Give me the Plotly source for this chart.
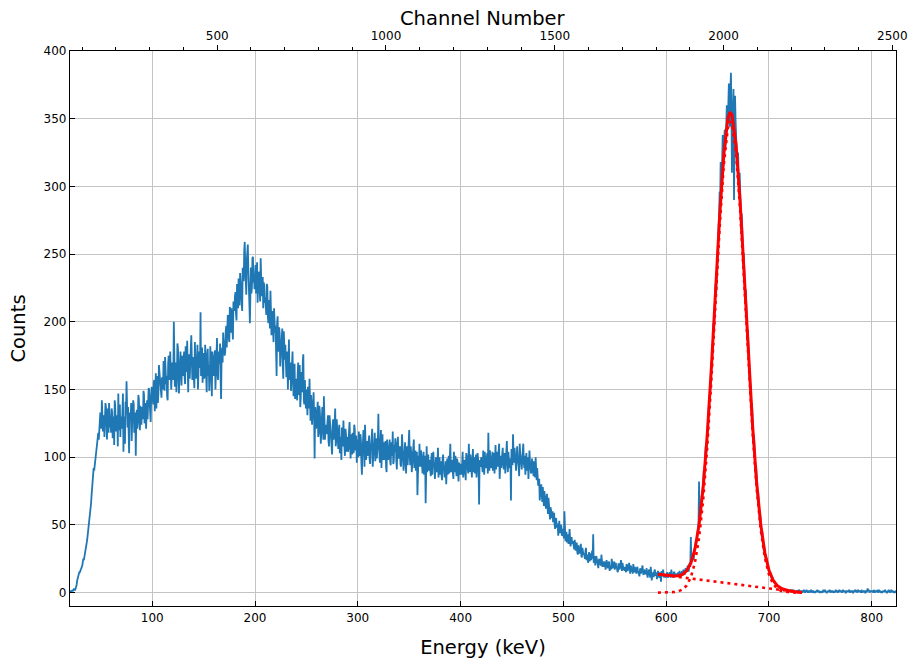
import numpy as np
import plotly.graph_objects as go

# Spectrum: counts at whole-keV energies starting at 20 keV ...
E_START = 20
COUNTS_INT = [
    1, 0, 2, 1, 3, 2, 4, 9, 12, 15,
    16, 19, 20, 25, 26, 31, 34, 41, 47, 56,
    60, 72, 79, 92, 94, 103, 106, 115, 113, 124,
    128, 142, 119, 131, 124, 137, 113, 129, 140, 122,
    118, 133, 126, 109, 138, 124, 131, 147, 120, 115,
    129, 136, 104, 125, 141, 156, 122, 118, 133, 127,
    112, 130, 139, 124, 101, 135, 128, 143, 120, 131,
    137, 128, 146, 133, 121, 142, 139, 150, 131, 145,
    148, 139, 157, 151, 136, 160, 147, 163, 152, 144,
    158, 171, 149, 165, 160, 142, 175, 157, 168, 162,
    166, 200, 152, 170, 158, 181, 147, 172, 163, 175,
    160, 178, 154, 169, 186, 148, 171, 165, 190, 157,
    168, 151, 176, 162, 183, 159, 172, 207, 164, 155,
    177, 161, 172, 148, 180, 168, 158, 175, 145, 171,
    163, 179, 170, 188, 157, 176, 184, 143, 181, 192,
    186, 178, 197, 190, 203, 185, 199, 210, 194, 215,
    208, 222, 201, 217, 232, 212, 226, 218, 240, 230,
    259, 228, 245, 257, 231, 199, 240, 226, 248, 235,
    236, 221, 244, 228, 233, 215, 238, 222, 210, 227,
    218, 205, 226, 199, 212, 223, 190, 208, 185, 201,
    197, 160, 204, 183, 191, 175, 186, 168, 193, 172,
    166, 178, 150, 187, 161, 149, 172, 156, 165, 143,
    158, 142, 170, 151, 137, 163, 148, 176, 139, 145,
    150, 131, 144, 158, 127, 139, 135, 148, 99, 133,
    126, 141, 118, 135, 110, 129, 122, 145, 113, 124,
    119, 131, 108, 125, 114, 102, 128, 117, 136, 112,
    120, 106, 124, 115, 98, 118, 127, 110, 121, 104,
    115, 107, 126, 99, 113, 118, 103, 121, 110, 96,
    109, 119, 101, 113, 87, 111, 104, 124, 98, 112,
    103, 116, 95, 108, 121, 100, 110, 97, 114, 106,
    132, 101, 109, 92, 117, 104, 98, 112, 89, 107,
    101, 113, 94, 106, 119, 97, 104, 110, 91, 115,
    99, 108, 93, 117, 102, 96, 111, 88, 105, 100,
    120, 94, 103, 97, 109, 92, 105, 99, 72, 101,
    110, 93, 101, 88, 104, 97, 66, 108, 95, 90,
    98, 86, 103, 92, 95, 84, 100, 89, 107, 91,
    87, 97, 83, 102, 90, 94, 80, 99, 92, 88,
    110, 89, 96, 84, 93, 101, 86, 97, 82, 94,
    95, 87, 104, 90, 98, 83, 101, 92, 110, 89,
    97, 85, 106, 93, 88, 102, 95, 99, 65, 94,
    100, 91, 105, 87, 98, 94, 103, 118, 90, 96,
    92, 104, 97, 88, 109, 99, 93, 106, 84, 101,
    98, 107, 91, 103, 95, 112, 89, 100, 94, 68,
    105, 117, 96, 101, 90, 108, 98, 86, 103, 95,
    99, 110, 92, 87, 103, 96, 84, 105, 93, 89,
    94, 86, 91, 100, 83, 88, 80, 68, 76, 72,
    78, 64, 70, 62, 73, 58, 66, 54, 61, 57,
    52, 59, 47, 55, 50, 42, 53, 46, 49, 44,
    43, 60, 38, 45, 40, 36, 47, 34, 41, 37,
    35, 39, 31, 37, 28, 33, 30, 36, 26, 31,
    29, 25, 33, 27, 22, 30, 26, 24, 31, 43,
    24, 20, 27, 22, 18, 25, 21, 28, 19, 23,
    21, 17, 24, 19, 22, 16, 20, 25, 18, 21,
    17, 22, 19, 15, 21, 18, 24, 16, 20, 18,
    19, 15, 20, 17, 22, 14, 18, 16, 21, 15,
    17, 14, 19, 15, 12, 18, 16, 20, 13, 15,
    14, 18, 11, 16, 13, 19, 9, 15, 12, 17,
    13, 10, 16, 12, 15, 8, 14, 17, 11, 13,
    12, 15, 11, 14, 13, 17, 12, 11, 15, 13,
    14, 12, 13, 16, 12, 15, 14, 17, 13, 18,
    17, 20, 16, 22, 41, 23, 28, 26, 34, 38,
    44, 48, 82, 58, 60, 74, 80, 84, 101, 103,
    121, 126, 145, 150, 171, 176, 199, 204, 228, 233,
    256, 271, 296, 318, 301, 338, 319, 342, 333, 360,
    348, 376, 344, 384, 310, 352, 290, 367, 335, 318,
    325, 296, 301, 268, 270, 242, 238, 214, 210, 186,
    180, 158, 152, 133, 127, 110, 105, 88, 84, 70,
    68, 55, 53, 41, 40, 31, 30, 24, 23, 18,
    17, 13, 14, 10, 9, 8, 7, 6, 5, 5,
    4, 3, 4, 3, 2, 3, 2, 2, 1, 2,
    1, 2, 1, 1, 2, 1, 0, 1, 1, 2,
    1, 0, 1, 1, 2, 0, 1, 1, 0, 1,
    1, 2, 0, 1, 1, 0, 1, 2, 1, 0,
    1, 1, 0, 2, 1, 1, 0, 1, 1, 2,
    0, 1, 1, 1, 0, 2, 1, 0, 1, 1,
    1, 0, 2, 1, 1, 0, 1, 1, 2, 0,
    1, 1, 0, 1, 2, 1, 0, 1, 1, 1,
    2, 0, 1, 1, 0, 1, 3, 1, 0, 1,
    1, 1, 2, 0, 1, 1, 0, 2, 1, 1,
    0, 1, 1, 2, 1, 0, 1, 1, 0, 2,
    1, 0, 1, 1, 1,
]

# ... and at the half-keV energies in between (20.5, 21.5, ...)
COUNTS_HALF = [
    1, 1, 2, 2, 2, 3, 6, 11, 13, 15,
    18, 19, 23, 24, 29, 33, 38, 44, 52, 58,
    66, 76, 86, 90, 99, 104, 112, 118, 121, 133,
    121, 134, 126, 115, 140, 127, 136, 118, 130, 125,
    136, 114, 130, 142, 119, 127, 108, 125, 139, 130,
    121, 147, 130, 110, 132, 126, 137, 103, 128, 140,
    125, 142, 118, 133, 129, 121, 146, 127, 138, 124,
    130, 149, 125, 140, 136, 128, 151, 140, 126, 152,
    141, 155, 134, 162, 149, 140, 168, 155, 146, 159,
    150, 163, 174, 154, 145, 169, 161, 178, 150, 170,
    157, 175, 162, 148, 184, 166, 159, 178, 153, 168,
    171, 159, 182, 163, 151, 176, 158, 180, 168, 174,
    162, 185, 158, 170, 150, 178, 166, 160, 181, 169,
    158, 183, 165, 176, 160, 149, 182, 163, 178, 160,
    174, 150, 185, 162, 178, 169, 158, 175, 170, 184,
    175, 193, 181, 205, 188, 211, 192, 204, 187, 209,
    219, 206, 228, 210, 224, 236, 219, 208, 231, 252,
    241, 220, 251, 238, 214, 233, 221, 247, 229, 224,
    242, 230, 214, 237, 226, 247, 219, 233, 229, 214,
    211, 228, 204, 216, 195, 209, 203, 196, 210, 192,
    186, 199, 178, 196, 167, 184, 195, 158, 177, 183,
    159, 171, 181, 157, 170, 160, 178, 145, 169, 154,
    149, 161, 146, 168, 144, 155, 171, 142, 157, 136,
    141, 152, 136, 128, 146, 124, 141, 129, 137, 121,
    133, 115, 138, 126, 119, 137, 113, 130, 121, 117,
    126, 112, 131, 120, 107, 123, 113, 125, 108, 128,
    111, 119, 103, 113, 122, 108, 114, 101, 117, 109,
    104, 120, 110, 117, 102, 111, 124, 105, 116, 113,
    100, 106, 117, 96, 108, 120, 93, 110, 106, 101,
    111, 98, 105, 115, 93, 109, 118, 102, 99, 111,
    110, 96, 120, 103, 98, 111, 105, 93, 113, 98,
    108, 97, 111, 101, 95, 109, 114, 97, 106, 102,
    104, 95, 100, 109, 90, 103, 97, 108, 94, 112,
    101, 108, 89, 99, 113, 96, 90, 104, 98, 93,
    97, 105, 92, 99, 87, 101, 94, 89, 102, 97,
    91, 99, 87, 104, 96, 89, 93, 97, 85, 100,
    94, 86, 99, 92, 85, 97, 92, 87, 101, 95,
    91, 98, 88, 104, 89, 95, 99, 90, 96, 87,
    92, 99, 85, 96, 89, 103, 94, 88, 97, 102,
    91, 99, 89, 100, 96, 85, 103, 91, 98, 93,
    96, 89, 99, 104, 92, 100, 88, 97, 105, 93,
    99, 90, 103, 95, 91, 104, 98, 110, 96, 92,
    103, 94, 99, 88, 105, 97, 104, 92, 99, 106,
    94, 102, 107, 92, 98, 101, 93, 110, 99, 91,
    104, 96, 101, 95, 90, 100, 92, 97, 88, 99,
    90, 97, 85, 94, 92, 79, 84, 73, 80, 67,
    71, 75, 66, 69, 64, 70, 59, 63, 55, 60,
    56, 50, 54, 48, 51, 47, 44, 50, 42, 47,
    40, 44, 41, 37, 43, 39, 35, 40, 36, 38,
    32, 36, 34, 30, 35, 29, 32, 27, 33, 28,
    27, 31, 24, 28, 26, 23, 29, 27, 25, 22,
    27, 23, 25, 19, 24, 22, 20, 24, 21, 19,
    23, 19, 21, 18, 23, 20, 17, 22, 19, 23,
    20, 18, 16, 21, 17, 20, 19, 22, 17, 16,
    17, 21, 16, 19, 15, 20, 17, 14, 18, 19,
    15, 18, 16, 13, 17, 14, 19, 15, 17, 14,
    16, 13, 15, 17, 11, 15, 14, 12, 16, 13,
    15, 12, 14, 11, 13, 16, 12, 14, 13, 11,
    14, 12, 13, 15, 11, 14, 13, 15, 12, 14,
    13, 15, 12, 14, 13, 16, 15, 14, 16, 17,
    18, 16, 21, 19, 24, 26, 24, 31, 35, 37,
    46, 52, 55, 66, 71, 76, 90, 93, 108, 112,
    130, 138, 146, 162, 166, 184, 192, 211, 219, 243,
    262, 279, 287, 305, 322, 314, 335, 329, 346, 352,
    361, 355, 370, 358, 339, 372, 344, 349, 326, 320,
    306, 310, 284, 280, 257, 251, 229, 224, 200, 194,
    166, 160, 141, 140, 119, 116, 96, 94, 77, 74,
    61, 58, 48, 45, 35, 33, 27, 26, 21, 19,
    15, 14, 12, 11, 9, 8, 7, 6, 5, 4,
    4, 3, 3, 2, 3, 2, 2, 1, 2, 1,
    1, 1, 2, 1, 1, 0, 1, 1, 1, 1,
    1, 1, 0, 1, 1, 1, 2, 1, 1, 0,
    1, 1, 1, 0, 1, 1, 1, 1, 1, 1,
    0, 1, 1, 1, 2, 1, 0, 1, 1, 1,
    1, 1, 0, 1, 1, 1, 1, 1, 2, 1,
    1, 1, 1, 1, 0, 1, 1, 1, 1, 1,
    1, 0, 1, 1, 1, 1, 2, 1, 1, 0,
    1, 1, 1, 0, 1, 1, 1, 2, 1, 1,
    1, 0, 1, 1, 1, 2, 1, 1, 0, 1,
    1, 1, 1, 1, 0, 1, 2, 1, 1, 1,
    1, 1, 0, 1,
]

# Photopeak fit: total model, Gaussian component and linear background
FIT_E = [592, 596, 600, 604, 608, 612, 616, 620, 624, 628, 632, 636, 640,
         644, 648, 652, 656, 660, 662, 664, 668, 672, 676, 680, 684, 688,
         692, 696, 700, 704, 708, 712, 716, 720, 724, 728, 732]
FIT_TOTAL = [13.5, 13.1, 12.8, 12.5, 12.3, 12.5, 13.5, 16.1, 21.7, 32.2,
             50.0, 77.8, 116.8, 166.1, 222.1, 277.3, 322.9, 349.9, 354.8,
             352.8, 330.7, 288.2, 233.7, 176.3, 124.0, 81.5, 50.4, 29.4,
             16.5, 9.2, 5.2, 3.1, 2.0, 1.3, 0.8, 0.4, 0.0]
FIT_PEAK = [0.0, 0.0, 0.0, 0.1, 0.4, 1.0, 2.3, 5.3, 11.3, 22.2, 40.4, 68.5,
            107.9, 157.6, 214.0, 269.6, 315.6, 343.0, 348.0, 346.2, 324.5,
            282.4, 228.3, 171.3, 119.4, 77.3, 46.5, 25.9, 13.4, 6.5, 2.9,
            1.2, 0.5, 0.2, 0.1, 0.0, 0.0]
BG_E = [592, 732]
BG_COUNTS = [13.5, 0.0]

# Energy calibration: E = GAIN * channel + OFFSET
GAIN = 0.32841
OFFSET = -0.99

E_RANGE = [20, 823.6]
Y_RANGE = [-9.9, 400]

# interleave the two sample sets into one spectrum ordered by energy
n_int, n_half = len(COUNTS_INT), len(COUNTS_HALF)
energy = np.empty(n_int + n_half)
counts = np.empty(n_int + n_half)
energy[0::2] = E_START + np.arange(n_int)
energy[1::2] = E_START + 0.5 + np.arange(n_half)
counts[0::2] = COUNTS_INT
counts[1::2] = COUNTS_HALF

ch_range = [(e - OFFSET) / GAIN for e in E_RANGE]

FONT = "DejaVu Sans"
BLUE = "#1f77b4"
RED = "#ff0000"
GRID = "#c4c4c4"
TITLE_SIZE = 19.5

fig = go.Figure()
fig.add_trace(go.Scatter(x=energy, y=counts, mode="lines",
                         line=dict(color=BLUE, width=1.8), hoverinfo="skip"))
fig.add_trace(go.Scatter(x=FIT_E, y=FIT_TOTAL, mode="lines",
                         line=dict(color=RED, width=3), hoverinfo="skip"))
fig.add_trace(go.Scatter(x=FIT_E, y=FIT_PEAK, mode="lines",
                         line=dict(color=RED, width=2.6, dash="3px,4px"),
                         hoverinfo="skip"))
fig.add_trace(go.Scatter(x=BG_E, y=BG_COUNTS, mode="lines",
                         line=dict(color=RED, width=2.6, dash="3px,4px"),
                         hoverinfo="skip"))
# carrier for the channel-number axis on top
fig.add_trace(go.Scatter(x=[ch_range[0]], y=[Y_RANGE[0] - 100], xaxis="x2",
                         mode="markers", marker=dict(opacity=0),
                         hoverinfo="skip"))

fig.update_layout(
    width=915, height=659,
    margin=dict(l=70, r=19, t=51, b=53, autoexpand=False),
    plot_bgcolor="white", paper_bgcolor="white",
    showlegend=False,
    font=dict(family=FONT, size=12, color="black"),
    xaxis=dict(
        range=E_RANGE, tick0=0, dtick=100, automargin=False,
        ticks="inside", ticklen=5, tickwidth=1, tickcolor="black",
        showline=True, mirror=True, linecolor="black", linewidth=1.2,
        showgrid=True, gridcolor=GRID, gridwidth=1, zeroline=False,
        title=dict(text="Energy (keV)", font=dict(size=TITLE_SIZE),
                   standoff=16),
    ),
    yaxis=dict(
        range=Y_RANGE, tick0=0, dtick=50, automargin=False,
        ticks="inside", ticklen=5, tickwidth=1, tickcolor="black",
        showline=True, mirror=True, linecolor="black", linewidth=1.2,
        showgrid=True, gridcolor=GRID, gridwidth=1, zeroline=False,
        title=dict(text="Counts", font=dict(size=TITLE_SIZE), standoff=12),
    ),
    xaxis2=dict(
        overlaying="x", side="top", anchor="y", automargin=False,
        range=ch_range, tick0=0, dtick=500,
        ticks="outside", ticklen=5, tickwidth=1, tickcolor="black",
        minor=dict(dtick=100, ticks="outside", ticklen=3, tickcolor="black",
                   showgrid=False),
        showline=False, showgrid=False, zeroline=False,
    ),
    annotations=[dict(
        text="Channel Number", xref="paper", yref="paper", x=0.5, y=1,
        xanchor="center", yanchor="middle", yshift=33, showarrow=False,
        font=dict(size=TITLE_SIZE),
    )],
)

fig.write_html("out.html")
